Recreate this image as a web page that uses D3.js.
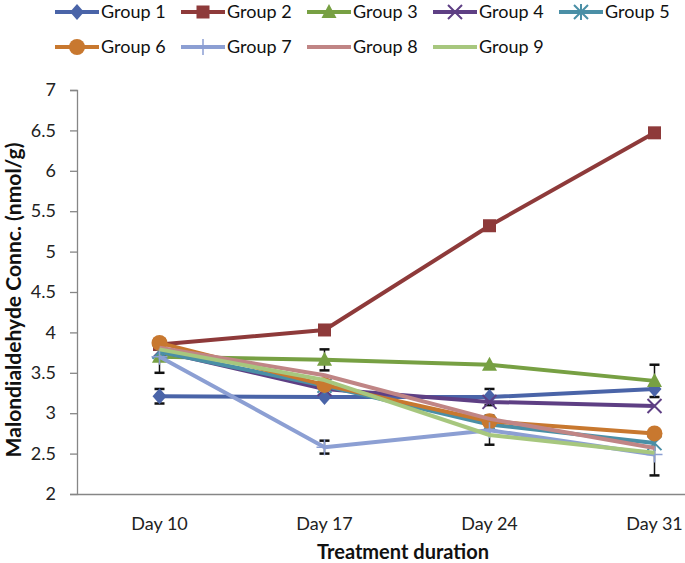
<!DOCTYPE html>
<html><head><meta charset="utf-8">
<script src="https://cdn.jsdelivr.net/npm/d3@7"></script>
<style>body{margin:0;background:#fff} svg{display:block;font-family:Lato, "Open Sans", sans-serif}</style>
</head><body><svg id="c" width="685" height="563"></svg>
<script>
const days = ["Day 10", "Day 17", "Day 24", "Day 31"];
const groupNames = ["Group 1","Group 2","Group 3","Group 4","Group 5","Group 6","Group 7","Group 8","Group 9"];
const group1 = [3.21, 3.20, 3.20, 3.30];
const group2 = [3.85, 4.03, 5.32, 6.47];
const group3 = [3.70, 3.66, 3.60, 3.40];
const group4 = [3.77, 3.30, 3.14, 3.09];
const group5 = [3.76, 3.34, 2.86, 2.63];
const group6 = [3.87, 3.35, 2.90, 2.75];
const group7 = [3.70, 2.58, 2.79, 2.49];
const group8 = [3.81, 3.47, 2.93, 2.57];
const group9 = [3.79, 3.41, 2.73, 2.51];
const err1 = [0.09, 0.00, 0.10, 0.00];
const err2 = [0.00, 0.00, 0.00, 0.05];
const err3 = [0.00, 0.13, 0.00, 0.20];
const err4 = [0, 0, 0, 0];
const err5 = [0, 0, 0.05, 0];
const err6 = [0, 0.05, 0, 0];
const err7 = [0.20, 0.08, 0.18, 0.26];
const err8 = [0, 0, 0, 0];
const err9 = [0, 0, 0, 0];
const yTicks = [2, 2.5, 3, 3.5, 4, 4.5, 5, 5.5, 6, 6.5, 7];

const values = [group1, group2, group3, group4, group5, group6, group7, group8, group9];
const errors = [err1, err2, err3, err4, err5, err6, err7, err8, err9];
const colors = ["#4A64A8", "#8E3A3A", "#77A043", "#5E3F84", "#4A8FA6", "#C8782F", "#8C9FD3", "#C08585", "#A7C77E"];
const markers = ["diamond", "square", "triangle", "x", "asterisk", "circle", "plus", "none", "none"];

const svg = d3.select("#c");
const x = d3.scaleBand().domain(days).range([77, 737]).padding(0);
const cx = d => x(d) + x.bandwidth() / 2;
const y = d3.scaleLinear().domain([2, 7]).range([494, 90]);

// y axis
const ya = svg.append("g").attr("transform", "translate(77,0)")
  .call(d3.axisLeft(y).tickValues(yTicks).tickSize(7).tickPadding(14).tickFormat(d => String(d)));
ya.select(".domain").attr("stroke", "#868686").attr("stroke-width", 1.3);
ya.selectAll(".tick line").attr("stroke", "#868686").attr("stroke-width", 1.3);
ya.selectAll(".tick text").attr("font-size", 18).attr("fill", "#222").attr("font-family", "Lato, sans-serif");

// x axis
const xa = svg.append("g").attr("transform", "translate(0,494)")
  .call(d3.axisBottom(x).tickSize(0).tickSizeOuter(0).tickPadding(23));
xa.select(".domain").attr("stroke", "#868686").attr("stroke-width", 1.3);
xa.selectAll(".tick text").attr("font-size", 18).attr("fill", "#222").attr("font-family", "Lato, sans-serif");

// axis titles, sized to fit their measured extent in the reference
function fitText(t, target) {
  const len = t.node().getComputedTextLength();
  const fs = +t.attr("font-size");
  if (len > 0) t.attr("font-size", (fs * target / len).toFixed(2));
}
const yt = svg.append("text").attr("transform", "translate(21,300) rotate(-90)")
  .attr("text-anchor", "middle").attr("font-weight", "bold").attr("font-size", 16).attr("fill", "#111")
  .text("Malondialdehyde Connc. (nmol/g)");
fitText(yt, 315);
const xt = svg.append("text").attr("x", 403).attr("y", 559)
  .attr("text-anchor", "middle").attr("font-weight", "bold").attr("font-size", 16).attr("fill", "#111")
  .text("Treatment duration");
fitText(xt, 172);

function drawMarker(g, type, px, py, color) {
  if (type === "diamond") {
    g.append("path").attr("d", `M${px},${py - 8}L${px + 7},${py}L${px},${py + 8}L${px - 7},${py}Z`).attr("fill", color);
  } else if (type === "square") {
    g.append("rect").attr("x", px - 6.5).attr("y", py - 6.5).attr("width", 13).attr("height", 13).attr("fill", color);
  } else if (type === "triangle") {
    g.append("path").attr("d", `M${px},${py - 8}L${px + 7.5},${py + 6}L${px - 7.5},${py + 6}Z`).attr("fill", color);
  } else if (type === "x") {
    g.append("path").attr("d", `M${px - 7},${py - 7}L${px + 7},${py + 7}M${px + 7},${py - 7}L${px - 7},${py + 7}`)
      .attr("stroke", color).attr("stroke-width", 2);
  } else if (type === "asterisk") {
    g.append("path").attr("d", `M${px - 7},${py - 7}L${px + 7},${py + 7}M${px + 7},${py - 7}L${px - 7},${py + 7}M${px},${py - 8}L${px},${py + 8}`)
      .attr("stroke", color).attr("stroke-width", 2);
  } else if (type === "circle") {
    g.append("circle").attr("cx", px).attr("cy", py).attr("r", 8).attr("fill", color);
  } else if (type === "plus") {
    g.append("path").attr("d", `M${px - 8},${py}L${px + 8},${py}M${px},${py - 8}L${px},${py + 8}`)
      .attr("stroke", color).attr("stroke-width", 1.5);
  }
}

// error bars (behind lines)
const eg = svg.append("g");
values.forEach((vals, i) => {
  vals.forEach((v, j) => {
    const e = errors[i][j];
    if (!e) return;
    const px = cx(days[j]);
    eg.append("line").attr("x1", px).attr("x2", px).attr("y1", y(v - e)).attr("y2", y(v + e))
      .attr("stroke", "#111").attr("stroke-width", 1.5);
    [v - e, v + e].forEach(t => eg.append("line").attr("x1", px - 5).attr("x2", px + 5).attr("y1", y(t)).attr("y2", y(t))
      .attr("stroke", "#111").attr("stroke-width", 2.5));
  });
});

// series
const line = d3.line().x((d, j) => cx(days[j])).y(d => y(d));
values.forEach((vals, i) => {
  const g = svg.append("g");
  g.append("path").datum(vals).attr("d", line).attr("fill", "none")
    .attr("stroke", colors[i]).attr("stroke-width", 4).attr("stroke-linejoin", "round");
  vals.forEach((v, j) => drawMarker(g, markers[i], cx(days[j]), y(v), colors[i]));
});

// legend
const lg = svg.append("g");
groupNames.forEach((name, i) => {
  const row = i < 5 ? 0 : 1;
  const col = i < 5 ? i : i - 5;
  const lx = 55 + col * 126;
  const ly = row === 0 ? 12 : 47;
  lg.append("line").attr("x1", lx).attr("x2", lx + 44).attr("y1", ly).attr("y2", ly)
    .attr("stroke", colors[i]).attr("stroke-width", 4);
  drawMarker(lg, markers[i], lx + 22, ly, colors[i]);
  lg.append("text").attr("x", lx + 46).attr("y", ly).attr("dy", "0.36em")
    .attr("font-size", 18).attr("fill", "#111").text(name);
});
</script></body></html>
